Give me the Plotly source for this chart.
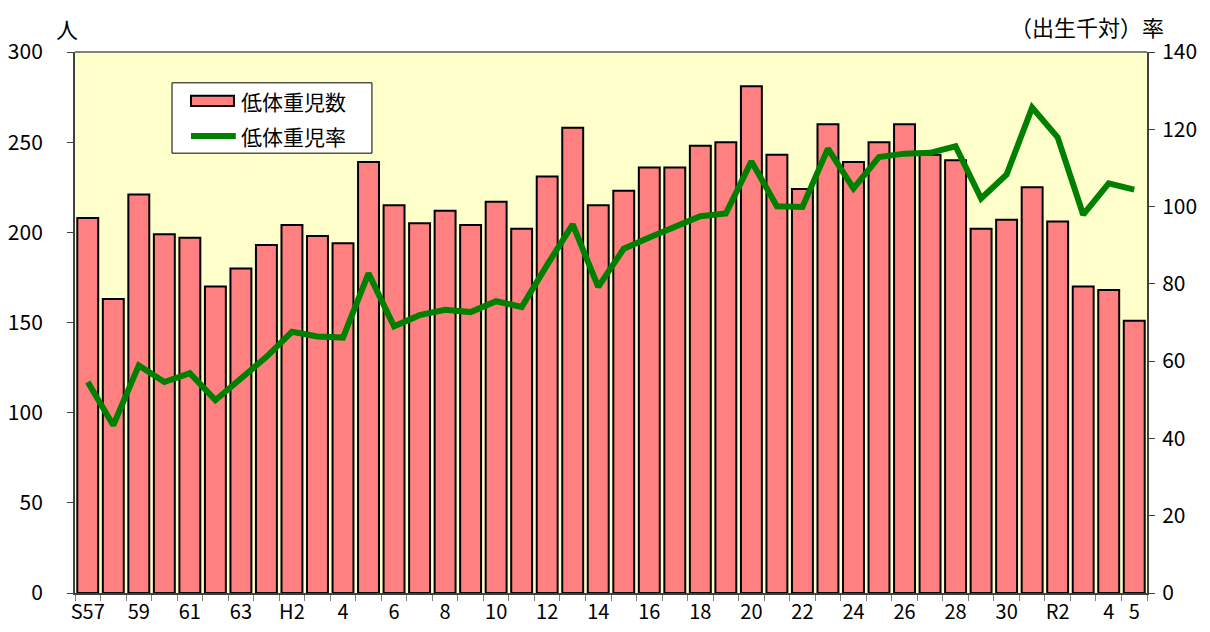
import plotly.graph_objects as go

categories = (["S57", "S58", "S59", "S60", "S61", "S62", "S63"]
              + ["H%d" % i for i in range(1, 31)]
              + ["R1", "R2", "R3", "R4", "R5"])

births_low = [208, 163, 221, 199, 197, 170, 180,
              193, 204, 198, 194, 239, 215, 205, 212, 204, 217, 202, 231, 258,
              215, 223, 236, 236, 248, 250, 281, 243, 224, 260, 239, 250, 260,
              243, 240, 202, 207,
              225, 206, 170, 168, 151]

rate_low = [54.6, 43.4, 58.9, 54.6, 56.9, 49.9, 55.5,
            61.1, 67.6, 66.4, 66.1, 82.7, 69.0, 71.9, 73.3, 72.7, 75.5, 74.0, 84.9, 95.4,
            79.2, 89.1, 92.0, 94.7, 97.5, 98.2, 111.7, 100.1, 99.9, 115.0, 104.7, 112.8, 113.7,
            113.9, 115.6, 102.1, 108.3,
            125.6, 117.9, 97.9, 106.0, 104.4]

tick_labels = {"S57": "S57", "S59": "59", "S61": "61", "S63": "63", "H2": "H2",
               "H4": "4", "H6": "6", "H8": "8", "H10": "10", "H12": "12", "H14": "14",
               "H16": "16", "H18": "18", "H20": "20", "H22": "22", "H24": "24",
               "H26": "26", "H28": "28", "H30": "30", "R2": "R2", "R4": "4", "R5": "5"}

left_ticks = [0, 50, 100, 150, 200, 250, 300]
right_ticks = [0, 20, 40, 60, 80, 100, 120, 140]

series_names = ["低体重児数", "低体重児率"]
BAR_COLOR = "#FF8080"
LINE_COLOR = "#008000"
FONT = "Noto Sans CJK JP"

fig = go.Figure()
fig.add_trace(go.Bar(
    x=categories, y=births_low, name=series_names[0],
    marker=dict(color=BAR_COLOR, line=dict(color="#000000", width=2)),
    yaxis="y", showlegend=False,
))
fig.add_trace(go.Scatter(
    x=categories, y=rate_low, name=series_names[1], mode="lines",
    line=dict(color=LINE_COLOR, width=6), yaxis="y2", showlegend=False,
))

# custom legend (box, swatches, labels) in plot-area paper coordinates
legend_shapes = [
    dict(type="rect", xref="paper", yref="paper", x0=0.0905, x1=0.277, y0=0.813, y1=0.943,
         fillcolor="white", line=dict(color="#000000", width=1), layer="above"),
    dict(type="rect", xref="paper", yref="paper", x0=0.1082, x1=0.1483, y0=0.900, y1=0.919,
         fillcolor=BAR_COLOR, line=dict(color="#000000", width=2), layer="above"),
    dict(type="line", xref="paper", yref="paper", x0=0.1082, x1=0.150, y0=0.8447, y1=0.8447,
         line=dict(color=LINE_COLOR, width=6), layer="above"),
]
legend_texts = [
    dict(text=series_names[0], xref="paper", yref="paper", x=0.153, y=0.909,
         xanchor="left", yanchor="middle", showarrow=False, font=dict(family=FONT, size=21)),
    dict(text=series_names[1], xref="paper", yref="paper", x=0.153, y=0.845,
         xanchor="left", yanchor="middle", showarrow=False, font=dict(family=FONT, size=21)),
]

fig.update_layout(
    width=1210, height=632,
    margin=dict(l=67, r=71, t=44, b=47, autoexpand=False),
    paper_bgcolor="white",
    plot_bgcolor="#FFFFCC",
    bargap=0.18,
    font=dict(family=FONT, size=20, color="#000000"),
    showlegend=False,
    xaxis=dict(
        type="category", automargin=False,
        categoryorder="array", categoryarray=categories,
        tickmode="array", tickvals=categories,
        ticktext=[tick_labels.get(c, "") for c in categories],
        tickangle=0,
        tickson="boundaries", ticks="outside", ticklen=6, tickcolor="#808080",
        showline=True, linecolor="#404040", linewidth=2,
        showgrid=False, zeroline=False,
        tickfont=dict(family=FONT, size=20),
    ),
    yaxis=dict(
        range=[0, 300], tickvals=left_ticks, automargin=False,
        ticks="outside", ticklen=6, tickcolor="#404040",
        showline=True, linecolor="#404040", linewidth=2,
        showgrid=False, zeroline=False, ticklabelstandoff=20,
        tickfont=dict(family=FONT, size=21),
    ),
    yaxis2=dict(
        range=[0, 140], tickvals=right_ticks, overlaying="y", side="right", automargin=False,
        ticks="outside", ticklen=6, tickcolor="#404040",
        showline=True, linecolor="#404040", linewidth=2,
        showgrid=False, zeroline=False, ticklabelstandoff=3,
        tickfont=dict(family=FONT, size=21),
    ),
    shapes=[dict(type="line", xref="paper", yref="paper", x0=0, x1=1, y0=1, y1=1,
                 line=dict(color="#808080", width=2))] + legend_shapes,
    annotations=[
        dict(text="人", xref="paper", yref="paper", x=-0.007, y=1.0, yshift=6,
             xanchor="center", yanchor="bottom", showarrow=False,
             font=dict(family=FONT, size=22)),
        dict(text="（出生千対）率", xref="paper", yref="paper", x=1.0, y=1.0, yshift=9,
             xshift=18, xanchor="right", yanchor="bottom", showarrow=False, borderpad=0,
             font=dict(family=FONT, size=22)),
    ] + legend_texts,
)

fig.write_html("out.html")
